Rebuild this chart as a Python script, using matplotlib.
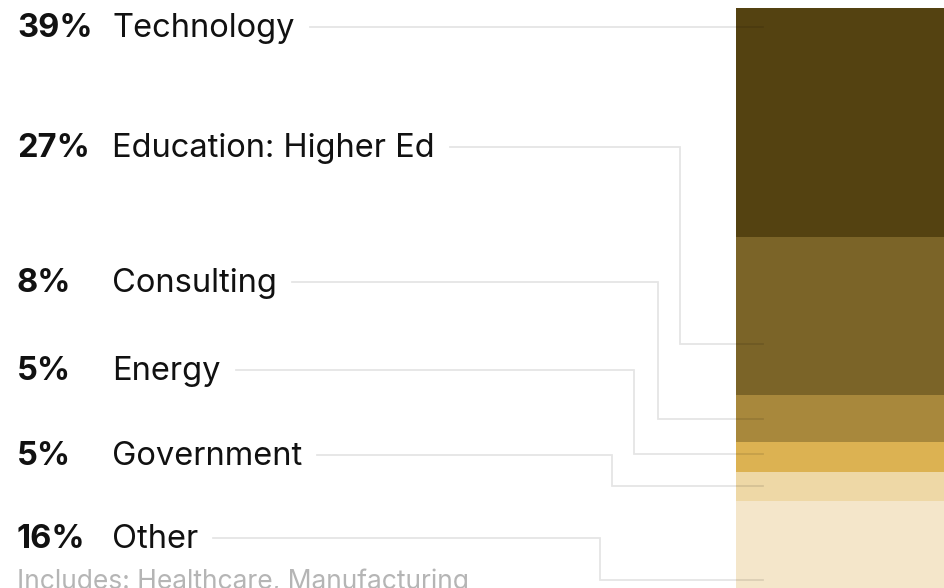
import numpy as np
import matplotlib.pyplot as plt

sectors = ["Technology", "Education: Higher Ed", "Consulting", "Energy", "Government", "Other"]
shares = [39, 27, 8, 5, 5, 16]
colors = ["#544211", "#7b6428", "#a8883c", "#dcb252", "#eed8a6", "#f4e6ca"]
note = "Includes: Healthcare, Manufacturing"

# where each leader line meets the bar (percent from top), label baselines and elbows (px)
anchors = [3.2, 57.2, 70.0, 76.0, 81.4, 97.4]
baselines = [37, 157, 292, 380, 465, 548]
elbow_x = [None, 680, 658, 634, 612, 600]

W, H = 944, 588
plt.rcParams['font.family'] = ['Inter', 'DejaVu Sans']
fig = plt.figure(figsize=(W / 100, H / 100), dpi=100)

# stacked column, top at y=8px, runs a bit past the bottom edge
bar_ax = fig.add_axes([736 / W, (H - 595) / H, 208 / W, 587 / H])
bottoms = np.concatenate([[0], np.cumsum(shares)[:-1]])
bar_ax.bar([0] * len(shares), shares, bottom=bottoms, width=1, color=colors)
bar_ax.set_xlim(-0.5, 0.5)
bar_ax.set_ylim(100, 0)
bar_ax.axis('off')

# overlay in pixel units for labels and leader lines
ov = fig.add_axes([0, 0, 1, 1], zorder=2)
ov.set_xlim(0, W)
ov.set_ylim(H, 0)
ov.axis('off')
ov.patch.set_alpha(0)

renderer = fig.canvas.get_renderer()
inv = ov.transData.inverted()
line_end = 763
fs = 23.5

for name, pct, anc, base, ex in zip(sectors, shares, anchors, baselines, elbow_x):
    ov.text(17, base, f"{pct}%", fontsize=fs, fontweight='bold', color='#111111', va='baseline')
    t = ov.text(112, base, name, fontsize=fs, color='#111111', va='baseline')
    x_right = inv.transform(t.get_window_extent(renderer).get_points())[1][0]
    y_label = base - 10
    disp = bar_ax.transData.transform((0, anc))
    y_target = inv.transform(disp)[1]
    if ex is None:
        xs = [x_right + 15, line_end]
        ys = [y_label, y_label]
    else:
        xs = [x_right + 15, ex, ex, line_end]
        ys = [y_label, y_label, y_target, y_target]
    ov.plot(xs, ys, color='black', alpha=0.1, lw=1.3, solid_joinstyle='miter')

ov.text(17, 589, note, fontsize=19, color='#b5b5b5', va='baseline')

fig.savefig("out.png", dpi=100)
